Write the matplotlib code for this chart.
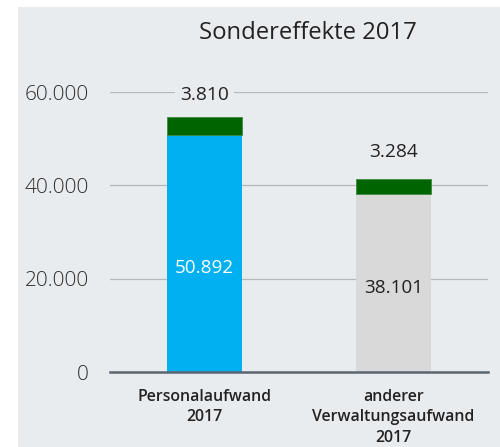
import matplotlib
matplotlib.use("Agg")
import matplotlib.pyplot as plt
from matplotlib.patches import Rectangle

categories = ["Personalaufwand\n2017", "anderer\nVerwaltungsaufwand\n2017"]
base_values = [50892, 38101]
effect_values = [3810, 3284]
base_labels = ["50.892", "38.101"]
effect_labels = ["3.810", "3.284"]
yticks = [0, 20000, 40000, 60000]
ytick_labels = ["0", "20.000", "40.000", "60.000"]
title = "Sondereffekte 2017"

W, H = 500, 447
fig = plt.figure(figsize=(W / 100, H / 100), dpi=100)
fig.patch.set_facecolor("white")
fig.patches.append(Rectangle((18 / W, 0), 1 - 18 / W, 1 - 7 / H, transform=fig.transFigure,
                             facecolor="#e9ecef", edgecolor="none", zorder=-10))

ax = fig.add_axes([110 / W, 1 - 372 / H, (488 - 110) / W, (372 - 92) / H])
ax.set_facecolor("none")
x = list(range(len(categories)))
base_colors = ["#00b0f0", "#d9d9d9"]
ax.bar(x, base_values, width=0.4, color=base_colors, zorder=2)
ax.bar(x, effect_values, width=0.4, bottom=base_values, color="#006400",
       edgecolor="#3f8a3f", linewidth=0.6, zorder=2)

ax.set_xlim(-0.5, 1.5)
ax.set_ylim(0, 60000)
ax.set_yticks(yticks)
ax.set_yticklabels(ytick_labels, fontsize=15, color="#2e2e2e", family="Open Sans", fontweight="light")
ax.tick_params(axis="y", length=0, pad=15)
ax.set_xticks(x)
ax.set_xticklabels(categories, fontsize=11.4, fontweight="semibold", family="Open Sans",
                   color="#222222", linespacing=1.38)
ax.tick_params(axis="x", length=0, pad=12)
for s in ["top", "right", "left"]:
    ax.spines[s].set_visible(False)
ax.spines["bottom"].set_color("#5a6570")
ax.spines["bottom"].set_linewidth(1.8)
ax.spines["bottom"].set_zorder(3)
for yv in yticks[1:]:
    ax.axhline(yv, color="#b4b8bc", linewidth=0.9, zorder=1)

# labels above bars
offsets = [22, 27]
for xi, b, e, lab, off in zip(x, base_values, effect_values, effect_labels, offsets):
    ax.annotate(lab, (xi, b + e), xytext=(0, off), textcoords="offset pixels",
                ha="center", va="center", fontsize=13.8, family="Open Sans", color="#222222",
                zorder=4, bbox=dict(boxstyle="square,pad=0.25", fc="#e9ecef", ec="none"))
# labels inside bars
fracs = [0.44, 0.47]
inner_colors = ["white", "#222222"]
for xi, b, lab, f, c in zip(x, base_values, base_labels, fracs, inner_colors):
    ax.text(xi, b * f, lab, ha="center", va="center", fontsize=13.6, family="Open Sans",
            color=c, zorder=4)

fig.text(308 / W, 1 - 33 / H, title, ha="center", va="center", fontsize=17.2,
         family="Open Sans", color="#222222")

fig.savefig("out.png", dpi=100)
